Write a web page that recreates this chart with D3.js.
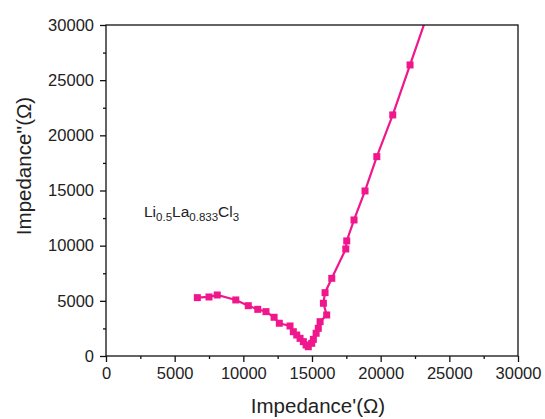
<!DOCTYPE html>
<html>
<head>
<meta charset="utf-8">
<script src="https://cdn.jsdelivr.net/npm/d3@7"></script>
<style>
  body { margin: 0; background: #fff; }
  text { font-family: "Liberation Sans", Arial, sans-serif; fill: #222; }
</style>
</head>
<body>
<div id="chart-area"></div>
<script>
// Nyquist data: Z' (real) and Z'' (imag), ohms
var zReal = [6650, 7500, 8100, 9450, 10360, 11050, 11650, 12240, 12620, 13400, 13640, 13890,
             14130, 14370, 14570, 14730, 14980, 15100, 15300, 15460, 15590, 16070, 15830, 15950,
             16440, 17460, 17530, 18060, 18860, 19720, 20880, 22140, 23600];
var zImag = [5290, 5350, 5530, 5080, 4560, 4230, 4020, 3510, 2970, 2720, 2200, 1900,
             1600, 1300, 1000, 840, 1150, 1510, 2060, 2510, 3110, 3720, 4780, 5740,
             7040, 9700, 10430, 12330, 14960, 18070, 21850, 26380, 31650];
var xTicks = [0, 5000, 10000, 15000, 20000, 25000, 30000];
var yTicks = [0, 5000, 10000, 15000, 20000, 25000, 30000];
var minorTicks = [2500, 7500, 12500, 17500, 22500, 27500];

var W = 545, H = 419;
var margins = { left: 106, right: 27, top: 25, bottom: 63 };
var width = W - margins.left - margins.right;
var height = H - margins.top - margins.bottom;
var pink = "#f0168c";

var svg = d3.select("#chart-area")
    .append("svg")
    .attr("width", W)
    .attr("height", H);

var g = svg.append("g")
    .attr("transform", "translate(" + margins.left + "," + margins.top + ")");

var x = d3.scaleLinear().domain([0, 30000]).range([0, width]);
var y = d3.scaleLinear().domain([0, 30000]).range([height, 0]);

g.append("clipPath").attr("id", "clip")
    .append("rect").attr("width", width).attr("height", height);

var pts = zReal.map(function(d, i) { return { x: d, y: zImag[i] }; });

var line = d3.line()
    .x(function(d) { return x(d.x); })
    .y(function(d) { return y(d.y); });

var plot = g.append("g").attr("clip-path", "url(#clip)");

plot.append("path")
    .datum(pts)
    .attr("d", line)
    .attr("fill", "none")
    .attr("stroke", pink)
    .attr("stroke-width", 2.2);

plot.selectAll(".pt")
    .data(pts)
    .enter()
    .append("rect")
    .attr("class", "pt")
    .attr("x", function(d) { return x(d.x) - 3.5; })
    .attr("y", function(d) { return y(d.y) - 3.5; })
    .attr("width", 7)
    .attr("height", 7)
    .attr("fill", pink);

// axes
var xAxis = g.append("g")
    .attr("transform", "translate(0," + height + ")")
    .call(d3.axisBottom(x).tickValues(xTicks).tickSize(6).tickPadding(5).tickFormat(d3.format("d")));
var xMinor = g.append("g")
    .attr("transform", "translate(0," + height + ")")
    .call(d3.axisBottom(x).tickValues(minorTicks).tickSize(3).tickFormat(""));
var yAxis = g.append("g")
    .call(d3.axisLeft(y).tickValues(yTicks).tickSize(6).tickPadding(6).tickFormat(d3.format("d")));
var yMinor = g.append("g")
    .call(d3.axisLeft(y).tickValues(minorTicks).tickSize(3).tickFormat(""));

[xAxis, xMinor, yAxis, yMinor].forEach(function(a) {
    a.select(".domain").remove();
    a.selectAll("line").attr("stroke", "#111").attr("stroke-width", 1.3);
    a.selectAll("text").style("font-size", "16.5px")
        .style("font-family", "'Liberation Sans', Arial, sans-serif").attr("fill", "#222");
});

// frame
g.append("rect")
    .attr("width", width)
    .attr("height", height)
    .attr("fill", "none")
    .attr("stroke", "#111")
    .attr("stroke-width", 1.3);

// axis titles
svg.append("text")
    .attr("x", margins.left + x(15000) + 6)
    .attr("y", 413)
    .attr("text-anchor", "middle")
    .style("font-size", "20.5px")
    .text("Impedance'(\u03A9)");

svg.append("text")
    .attr("transform", "translate(31,166) rotate(-90)")
    .attr("text-anchor", "middle")
    .style("font-size", "20.5px")
    .text("Impedance''(\u03A9)");

// sample label
var lbl = svg.append("text")
    .attr("x", 144)
    .attr("y", 217)
    .style("font-size", "15.5px");
lbl.append("tspan").text("Li");
lbl.append("tspan").attr("dy", 4).style("font-size", "11.5px").text("0.5");
lbl.append("tspan").attr("dy", -4).text("La");
lbl.append("tspan").attr("dy", 4).style("font-size", "11.5px").text("0.833");
lbl.append("tspan").attr("dy", -4).text("Cl");
lbl.append("tspan").attr("dy", 4).style("font-size", "11.5px").text("3");
</script>
</body>
</html>
